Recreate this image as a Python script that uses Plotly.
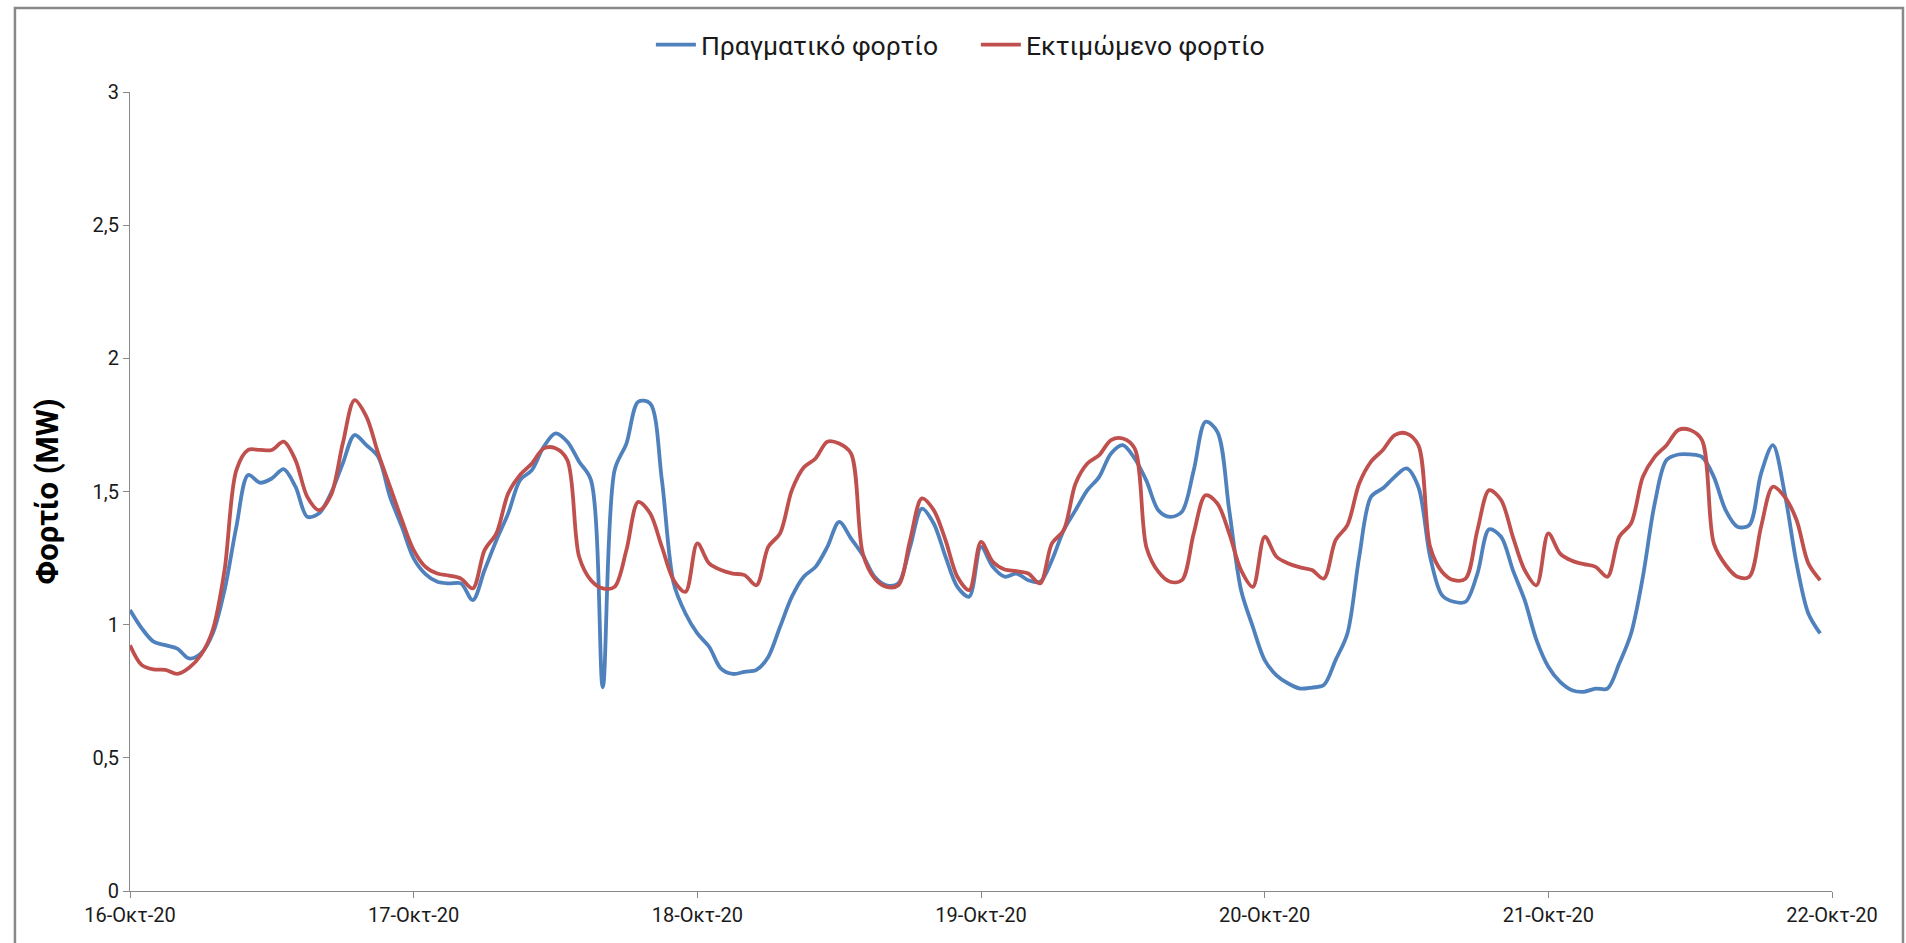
import pandas as pd
import plotly.graph_objects as go

# Hourly load, 16-21 October 2020 (MW)
hours = pd.date_range("2020-10-16 00:00", periods=144, freq="h")

actual_load = [
    # 16 Oct
    1.055, 0.986, 0.936, 0.923, 0.910, 0.873, 0.892, 0.967, 1.130, 1.368, 1.562, 1.533,
    1.549, 1.584, 1.518, 1.405, 1.418, 1.493, 1.605, 1.712, 1.674, 1.630, 1.480, 1.368,
    # 17 Oct
    1.249, 1.190, 1.161, 1.155, 1.155, 1.092, 1.205, 1.317, 1.418, 1.543, 1.580, 1.668,
    1.718, 1.687, 1.612, 1.543, 0.765, 1.580, 1.680, 1.837, 1.831, 1.543, 1.155, 1.042,
    # 18 Oct
    0.967, 0.917, 0.835, 0.815, 0.823, 0.830, 0.879, 0.992, 1.105, 1.180, 1.217, 1.292,
    1.386, 1.324, 1.261, 1.180, 1.148, 1.155, 1.292, 1.436, 1.380, 1.255, 1.142, 1.105,
    # 19 Oct
    1.292, 1.217, 1.180, 1.192, 1.167, 1.161, 1.242, 1.355, 1.430, 1.505, 1.555, 1.643,
    1.674, 1.624, 1.540, 1.430, 1.405, 1.424, 1.580, 1.762, 1.724, 1.430, 1.130, 0.992,
    # 20 Oct
    0.867, 0.810, 0.779, 0.760, 0.764, 0.773, 0.867, 0.967, 1.255, 1.480, 1.512, 1.555,
    1.587, 1.518, 1.255, 1.111, 1.086, 1.086, 1.192, 1.358, 1.330, 1.205, 1.092, 0.942,
    # 21 Oct
    0.842, 0.785, 0.754, 0.748, 0.760, 0.760, 0.854, 0.967, 1.180, 1.455, 1.618, 1.639,
    1.639, 1.630, 1.555, 1.430, 1.368, 1.374, 1.568, 1.674, 1.493, 1.230, 1.042, 0.967,
]

forecast_load = [
    # 16 Oct
    0.923, 0.848, 0.832, 0.830, 0.815, 0.838, 0.886, 0.980, 1.205, 1.580, 1.656, 1.656,
    1.656, 1.687, 1.618, 1.480, 1.430, 1.486, 1.680, 1.843, 1.781, 1.643, 1.518, 1.393,
    # 17 Oct
    1.280, 1.217, 1.192, 1.184, 1.173, 1.136, 1.280, 1.343, 1.493, 1.562, 1.605, 1.662,
    1.662, 1.618, 1.255, 1.167, 1.136, 1.142, 1.280, 1.461, 1.418, 1.292, 1.167, 1.123,
    # 18 Oct
    1.305, 1.230, 1.205, 1.192, 1.186, 1.148, 1.292, 1.343, 1.505, 1.590, 1.624, 1.687,
    1.680, 1.643, 1.267, 1.173, 1.142, 1.148, 1.317, 1.474, 1.430, 1.317, 1.180, 1.130,
    # 19 Oct
    1.311, 1.236, 1.207, 1.201, 1.192, 1.155, 1.305, 1.355, 1.530, 1.605, 1.637, 1.693,
    1.699, 1.662, 1.290, 1.199, 1.161, 1.167, 1.343, 1.486, 1.455, 1.343, 1.205, 1.142,
    # 20 Oct
    1.330, 1.255, 1.230, 1.215, 1.205, 1.173, 1.317, 1.374, 1.530, 1.612, 1.656, 1.712,
    1.718, 1.674, 1.292, 1.199, 1.167, 1.173, 1.355, 1.505, 1.468, 1.330, 1.205, 1.148,
    # 21 Oct
    1.343, 1.267, 1.240, 1.227, 1.217, 1.180, 1.330, 1.380, 1.555, 1.630, 1.674, 1.731,
    1.731, 1.693, 1.305, 1.224, 1.180, 1.180, 1.368, 1.518, 1.480, 1.393, 1.230, 1.167,
]

day_ticks = pd.date_range("2020-10-16", "2020-10-22", freq="D")
day_labels = ["16-Οκτ-20", "17-Οκτ-20", "18-Οκτ-20", "19-Οκτ-20",
              "20-Οκτ-20", "21-Οκτ-20", "22-Οκτ-20"]

series_names = ["Πραγματικό φορτίο", "Εκτιμώμενο φορτίο"]
series_colors = ["#4F81BD", "#C0504D"]

FONT = "Roboto, 'Open Sans', sans-serif"
AXIS_GRAY = "#898989"
TEXT = "#1a1a1a"

fig = go.Figure()
for name, values, color in zip(series_names, [actual_load, forecast_load], series_colors):
    fig.add_trace(go.Scatter(
        x=hours, y=values, name=name, mode="lines",
        line=dict(color=color, width=3.8, shape="spline", smoothing=0.9),
    ))

fig.update_layout(
    width=1906, height=943,
    margin=dict(l=130, r=74, t=92, b=52),
    paper_bgcolor="white", plot_bgcolor="white",
    separators=",.",
    font=dict(family=FONT, size=20, color=TEXT),
    showlegend=True,
    legend=dict(
        orientation="h", x=0.497, y=1.059, xanchor="center", yanchor="middle",
        font=dict(family=FONT, size=26.5, color=TEXT),
        itemwidth=40, entrywidth=270, entrywidthmode="pixels",
        tracegroupgap=0, bgcolor="rgba(0,0,0,0)",
    ),
    xaxis=dict(
        range=[day_ticks[0], day_ticks[-1]],
        tickmode="array", tickvals=day_ticks, ticktext=day_labels,
        showgrid=False, zeroline=False,
        showline=True, linecolor=AXIS_GRAY, linewidth=1,
        ticks="outside", ticklen=6, tickcolor=AXIS_GRAY,
        tickfont=dict(family=FONT, size=20, color=TEXT),
    ),
    yaxis=dict(
        range=[0, 3], dtick=0.5, tick0=0,
        showgrid=False, zeroline=False,
        showline=True, linecolor=AXIS_GRAY, linewidth=1,
        ticks="outside", ticklen=6, tickcolor=AXIS_GRAY,
        tickfont=dict(family=FONT, size=20, color=TEXT),
        title=dict(text="<b>Φορτίο (MW)</b>",
                   font=dict(family=FONT, size=31, color="#000000"),
                   standoff=24),
    ),
)

# Chart-area frame
fig.add_shape(
    type="rect", xref="paper", yref="paper",
    x0=-0.0676, x1=1.0417, y0=-0.08, y1=1.105,
    line=dict(color=AXIS_GRAY, width=2.5), fillcolor="rgba(0,0,0,0)", layer="below",
)

fig.write_html("out.html")
